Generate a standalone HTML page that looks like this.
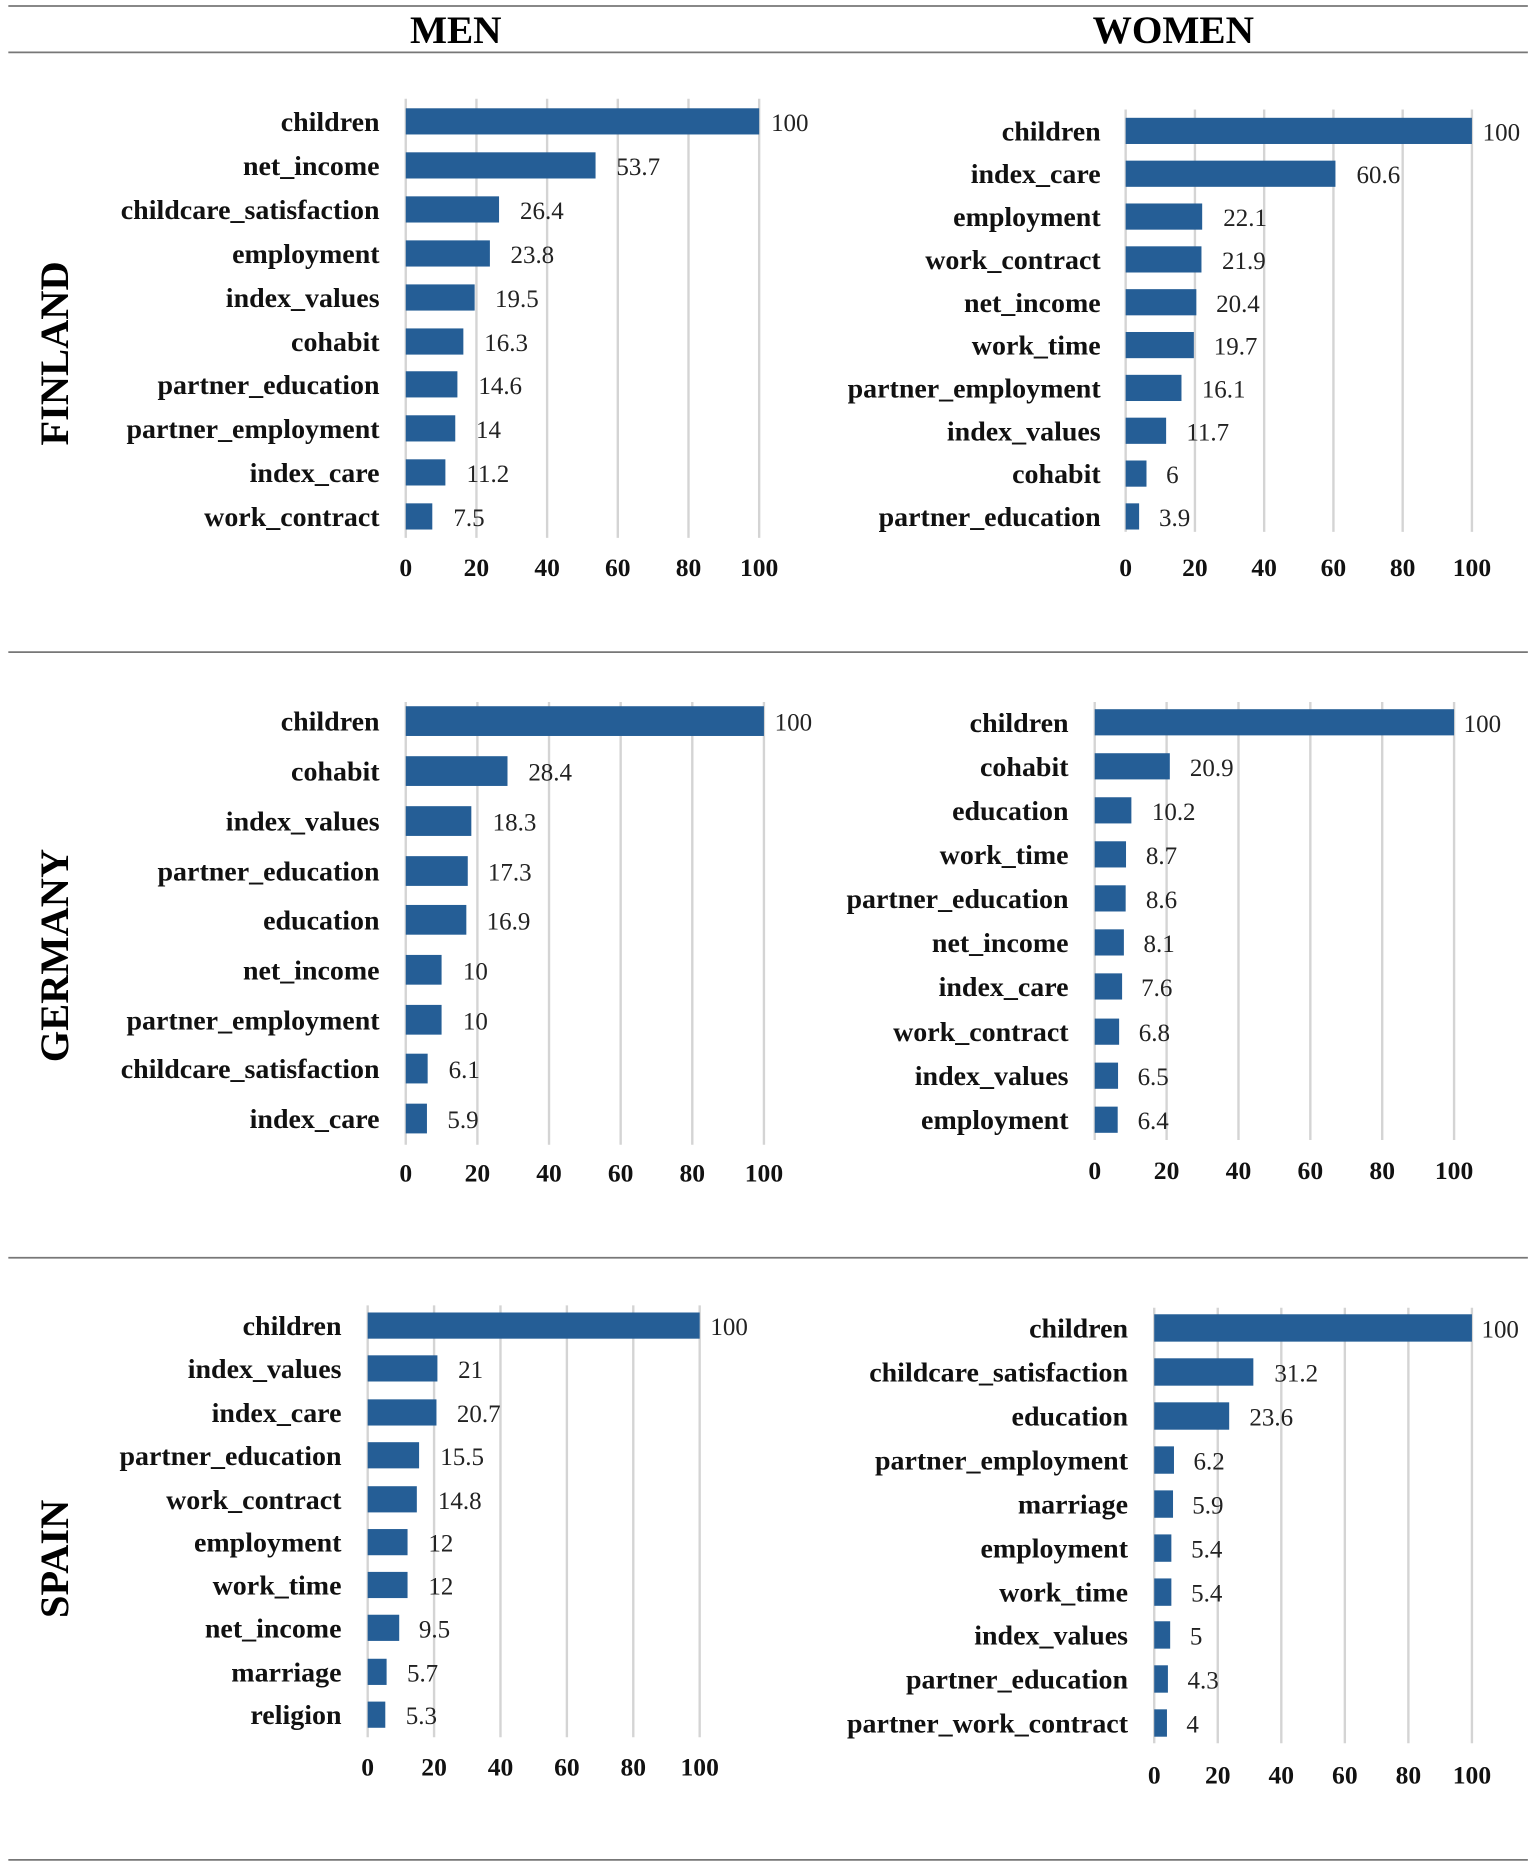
<!DOCTYPE html>
<html><head><meta charset="utf-8"><style>
html,body{margin:0;padding:0;background:#fff}
svg{display:block}
.c{font:bold 23.5px "Liberation Serif",serif;fill:#111;text-anchor:end}
.v{font:21px "Liberation Serif",serif;fill:#222}
.t{font:bold 21.5px "Liberation Serif",serif;fill:#111;text-anchor:middle}
.h{font:bold 33px "Liberation Serif",serif;fill:#000;text-anchor:middle}
.r{font:bold 34px "Liberation Serif",serif;fill:#000;text-anchor:middle}
.g line{stroke:#d4d4d4;stroke-width:2}
rect{fill:#255e96}
.s{stroke:#777;stroke-width:1.5}
</style></head><body>
<svg width="1535" height="1867" viewBox="0 0 1290 1569" xmlns="http://www.w3.org/2000/svg">
<line class="s" x1="7" y1="5" x2="1284" y2="5"/>
<line class="s" x1="7" y1="44" x2="1284" y2="44"/>
<line class="s" x1="7" y1="548" x2="1284" y2="548"/>
<line class="s" x1="7" y1="1057" x2="1284" y2="1057"/>
<line class="s" x1="7" y1="1563" x2="1284" y2="1563"/>
<text class="h" x="383" y="36">MEN</text>
<text class="h" x="986" y="36">WOMEN</text>
<text class="r" transform="translate(57,297) rotate(-90)">FINLAND</text>
<text class="r" transform="translate(57,803) rotate(-90)">GERMANY</text>
<text class="r" transform="translate(57,1310) rotate(-90)">SPAIN</text>

<!-- Finland men -->
<g class="g"><line x1="341" y1="83" x2="341" y2="452"/><line x1="400.4" y1="83" x2="400.4" y2="452"/><line x1="459.8" y1="83" x2="459.8" y2="452"/><line x1="519.2" y1="83" x2="519.2" y2="452"/><line x1="578.6" y1="83" x2="578.6" y2="452"/><line x1="638" y1="83" x2="638" y2="452"/></g>
<rect x="341" y="91" width="297" height="22"/><rect x="341" y="128" width="159.5" height="22"/><rect x="341" y="165" width="78.4" height="22"/><rect x="341" y="202" width="70.7" height="22"/><rect x="341" y="239" width="57.9" height="22"/><rect x="341" y="276" width="48.4" height="22"/><rect x="341" y="312" width="43.4" height="22"/><rect x="341" y="349" width="41.6" height="22"/><rect x="341" y="386" width="33.3" height="22"/><rect x="341" y="423" width="22.3" height="22"/>
<text class="c" x="319" y="110">children</text><text class="c" x="319" y="147">net_income</text><text class="c" x="319" y="184">childcare_satisfaction</text><text class="c" x="319" y="221">employment</text><text class="c" x="319" y="258">index_values</text><text class="c" x="319" y="295">cohabit</text><text class="c" x="319" y="331">partner_education</text><text class="c" x="319" y="368">partner_employment</text><text class="c" x="319" y="405">index_care</text><text class="c" x="319" y="442">work_contract</text>
<text class="v" x="648" y="110">100</text><text class="v" x="518" y="147">53.7</text><text class="v" x="437" y="184">26.4</text><text class="v" x="429" y="221">23.8</text><text class="v" x="416" y="258">19.5</text><text class="v" x="407" y="295">16.3</text><text class="v" x="402" y="331">14.6</text><text class="v" x="400" y="368">14</text><text class="v" x="392" y="405">11.2</text><text class="v" x="381" y="442">7.5</text>
<text class="t" x="341" y="484">0</text><text class="t" x="400.4" y="484">20</text><text class="t" x="459.8" y="484">40</text><text class="t" x="519.2" y="484">60</text><text class="t" x="578.6" y="484">80</text><text class="t" x="638" y="484">100</text>

<!-- Finland women -->
<g class="g"><line x1="946" y1="92" x2="946" y2="447"/><line x1="1004.2" y1="92" x2="1004.2" y2="447"/><line x1="1062.4" y1="92" x2="1062.4" y2="447"/><line x1="1120.6" y1="92" x2="1120.6" y2="447"/><line x1="1178.8" y1="92" x2="1178.8" y2="447"/><line x1="1237" y1="92" x2="1237" y2="447"/></g>
<rect x="946" y="99" width="291" height="22"/><rect x="946" y="135" width="176.3" height="22"/><rect x="946" y="171" width="64.3" height="22"/><rect x="946" y="207" width="63.7" height="22"/><rect x="946" y="243" width="59.4" height="22"/><rect x="946" y="279" width="57.3" height="22"/><rect x="946" y="315" width="46.9" height="22"/><rect x="946" y="351" width="34" height="22"/><rect x="946" y="387" width="17.5" height="22"/><rect x="946" y="423" width="11.3" height="22"/>
<text class="c" x="925" y="118">children</text><text class="c" x="925" y="154">index_care</text><text class="c" x="925" y="190">employment</text><text class="c" x="925" y="226">work_contract</text><text class="c" x="925" y="262">net_income</text><text class="c" x="925" y="298">work_time</text><text class="c" x="925" y="334">partner_employment</text><text class="c" x="925" y="370">index_values</text><text class="c" x="925" y="406">cohabit</text><text class="c" x="925" y="442">partner_education</text>
<text class="v" x="1246" y="118">100</text><text class="v" x="1140" y="154">60.6</text><text class="v" x="1028" y="190">22.1</text><text class="v" x="1027" y="226">21.9</text><text class="v" x="1022" y="262">20.4</text><text class="v" x="1020" y="298">19.7</text><text class="v" x="1010" y="334">16.1</text><text class="v" x="997" y="370">11.7</text><text class="v" x="980" y="406">6</text><text class="v" x="974" y="442">3.9</text>
<text class="t" x="946" y="484">0</text><text class="t" x="1004.2" y="484">20</text><text class="t" x="1062.4" y="484">40</text><text class="t" x="1120.6" y="484">60</text><text class="t" x="1178.8" y="484">80</text><text class="t" x="1237" y="484">100</text>

<!-- Germany men -->
<g class="g"><line x1="341" y1="590" x2="341" y2="962"/><line x1="401.2" y1="590" x2="401.2" y2="962"/><line x1="461.4" y1="590" x2="461.4" y2="962"/><line x1="521.6" y1="590" x2="521.6" y2="962"/><line x1="581.8" y1="590" x2="581.8" y2="962"/><line x1="642" y1="590" x2="642" y2="962"/></g>
<rect x="341" y="593.5" width="301" height="25"/><rect x="341" y="635.5" width="85.5" height="25"/><rect x="341" y="677.5" width="55.1" height="25"/><rect x="341" y="719.5" width="52.1" height="25"/><rect x="341" y="760.5" width="50.9" height="25"/><rect x="341" y="802.5" width="30.1" height="25"/><rect x="341" y="844.5" width="30.1" height="25"/><rect x="341" y="885.5" width="18.4" height="25"/><rect x="341" y="927.5" width="17.8" height="25"/>
<text class="c" x="319" y="614">children</text><text class="c" x="319" y="656">cohabit</text><text class="c" x="319" y="698">index_values</text><text class="c" x="319" y="740">partner_education</text><text class="c" x="319" y="781">education</text><text class="c" x="319" y="823">net_income</text><text class="c" x="319" y="865">partner_employment</text><text class="c" x="319" y="906">childcare_satisfaction</text><text class="c" x="319" y="948">index_care</text>
<text class="v" x="651" y="614">100</text><text class="v" x="444" y="656">28.4</text><text class="v" x="414" y="698">18.3</text><text class="v" x="410" y="740">17.3</text><text class="v" x="409" y="781">16.9</text><text class="v" x="389" y="823">10</text><text class="v" x="389" y="865">10</text><text class="v" x="377" y="906">6.1</text><text class="v" x="376" y="948">5.9</text>
<text class="t" x="341" y="993">0</text><text class="t" x="401.2" y="993">20</text><text class="t" x="461.4" y="993">40</text><text class="t" x="521.6" y="993">60</text><text class="t" x="581.8" y="993">80</text><text class="t" x="642" y="993">100</text>

<!-- Germany women -->
<g class="g"><line x1="920" y1="590" x2="920" y2="958"/><line x1="980.4" y1="590" x2="980.4" y2="958"/><line x1="1040.8" y1="590" x2="1040.8" y2="958"/><line x1="1101.2" y1="590" x2="1101.2" y2="958"/><line x1="1161.6" y1="590" x2="1161.6" y2="958"/><line x1="1222" y1="590" x2="1222" y2="958"/></g>
<rect x="920" y="596" width="302" height="22"/><rect x="920" y="633" width="63.1" height="22"/><rect x="920" y="670" width="30.8" height="22"/><rect x="920" y="707" width="26.3" height="22"/><rect x="920" y="744" width="26" height="22"/><rect x="920" y="781" width="24.5" height="22"/><rect x="920" y="818" width="23" height="22"/><rect x="920" y="856" width="20.5" height="22"/><rect x="920" y="893" width="19.6" height="22"/><rect x="920" y="930" width="19.3" height="22"/>
<text class="c" x="898" y="615">children</text><text class="c" x="898" y="652">cohabit</text><text class="c" x="898" y="689">education</text><text class="c" x="898" y="726">work_time</text><text class="c" x="898" y="763">partner_education</text><text class="c" x="898" y="800">net_income</text><text class="c" x="898" y="837">index_care</text><text class="c" x="898" y="875">work_contract</text><text class="c" x="898" y="912">index_values</text><text class="c" x="898" y="949">employment</text>
<text class="v" x="1230" y="615">100</text><text class="v" x="1000" y="652">20.9</text><text class="v" x="968" y="689">10.2</text><text class="v" x="963" y="726">8.7</text><text class="v" x="963" y="763">8.6</text><text class="v" x="961" y="800">8.1</text><text class="v" x="959" y="837">7.6</text><text class="v" x="957" y="875">6.8</text><text class="v" x="956" y="912">6.5</text><text class="v" x="956" y="949">6.4</text>
<text class="t" x="920" y="991">0</text><text class="t" x="980.4" y="991">20</text><text class="t" x="1040.8" y="991">40</text><text class="t" x="1101.2" y="991">60</text><text class="t" x="1161.6" y="991">80</text><text class="t" x="1222" y="991">100</text>

<!-- Spain men -->
<g class="g"><line x1="309" y1="1097" x2="309" y2="1460"/><line x1="364.8" y1="1097" x2="364.8" y2="1460"/><line x1="420.6" y1="1097" x2="420.6" y2="1460"/><line x1="476.4" y1="1097" x2="476.4" y2="1460"/><line x1="532.2" y1="1097" x2="532.2" y2="1460"/><line x1="588" y1="1097" x2="588" y2="1460"/></g>
<rect x="309" y="1103" width="279" height="22"/><rect x="309" y="1139" width="58.6" height="22"/><rect x="309" y="1176" width="57.8" height="22"/><rect x="309" y="1212" width="43.2" height="22"/><rect x="309" y="1249" width="41.3" height="22"/><rect x="309" y="1285" width="33.5" height="22"/><rect x="309" y="1321" width="33.5" height="22"/><rect x="309" y="1357" width="26.5" height="22"/><rect x="309" y="1394" width="15.9" height="22"/><rect x="309" y="1430" width="14.8" height="22"/>
<text class="c" x="287" y="1122">children</text><text class="c" x="287" y="1158">index_values</text><text class="c" x="287" y="1195">index_care</text><text class="c" x="287" y="1231">partner_education</text><text class="c" x="287" y="1268">work_contract</text><text class="c" x="287" y="1304">employment</text><text class="c" x="287" y="1340">work_time</text><text class="c" x="287" y="1376">net_income</text><text class="c" x="287" y="1413">marriage</text><text class="c" x="287" y="1449">religion</text>
<text class="v" x="597" y="1122">100</text><text class="v" x="385" y="1158">21</text><text class="v" x="384" y="1195">20.7</text><text class="v" x="370" y="1231">15.5</text><text class="v" x="368" y="1268">14.8</text><text class="v" x="360" y="1304">12</text><text class="v" x="360" y="1340">12</text><text class="v" x="352" y="1376">9.5</text><text class="v" x="342" y="1413">5.7</text><text class="v" x="341" y="1449">5.3</text>
<text class="t" x="309" y="1492">0</text><text class="t" x="364.8" y="1492">20</text><text class="t" x="420.6" y="1492">40</text><text class="t" x="476.4" y="1492">60</text><text class="t" x="532.2" y="1492">80</text><text class="t" x="588" y="1492">100</text>

<!-- Spain women -->
<g class="g"><line x1="970" y1="1099" x2="970" y2="1465"/><line x1="1023.4" y1="1099" x2="1023.4" y2="1465"/><line x1="1076.8" y1="1099" x2="1076.8" y2="1465"/><line x1="1130.2" y1="1099" x2="1130.2" y2="1465"/><line x1="1183.6" y1="1099" x2="1183.6" y2="1465"/><line x1="1237" y1="1099" x2="1237" y2="1465"/></g>
<rect x="970" y="1104.5" width="267" height="23"/><rect x="970" y="1141.5" width="83.3" height="23"/><rect x="970" y="1178.5" width="63" height="23"/><rect x="970" y="1215.5" width="16.6" height="23"/><rect x="970" y="1252.5" width="15.8" height="23"/><rect x="970" y="1289.5" width="14.4" height="23"/><rect x="970" y="1326.5" width="14.4" height="23"/><rect x="970" y="1362.5" width="13.4" height="23"/><rect x="970" y="1399.5" width="11.5" height="23"/><rect x="970" y="1436.5" width="10.7" height="23"/>
<text class="c" x="948" y="1124">children</text><text class="c" x="948" y="1161">childcare_satisfaction</text><text class="c" x="948" y="1198">education</text><text class="c" x="948" y="1235">partner_employment</text><text class="c" x="948" y="1272">marriage</text><text class="c" x="948" y="1309">employment</text><text class="c" x="948" y="1346">work_time</text><text class="c" x="948" y="1382">index_values</text><text class="c" x="948" y="1419">partner_education</text><text class="c" x="948" y="1456">partner_work_contract</text>
<text class="v" x="1245" y="1124">100</text><text class="v" x="1071" y="1161">31.2</text><text class="v" x="1050" y="1198">23.6</text><text class="v" x="1003" y="1235">6.2</text><text class="v" x="1002" y="1272">5.9</text><text class="v" x="1001" y="1309">5.4</text><text class="v" x="1001" y="1346">5.4</text><text class="v" x="1000" y="1382">5</text><text class="v" x="998" y="1419">4.3</text><text class="v" x="997" y="1456">4</text>
<text class="t" x="970" y="1499">0</text><text class="t" x="1023.4" y="1499">20</text><text class="t" x="1076.8" y="1499">40</text><text class="t" x="1130.2" y="1499">60</text><text class="t" x="1183.6" y="1499">80</text><text class="t" x="1237" y="1499">100</text>
</svg>
</body></html>
